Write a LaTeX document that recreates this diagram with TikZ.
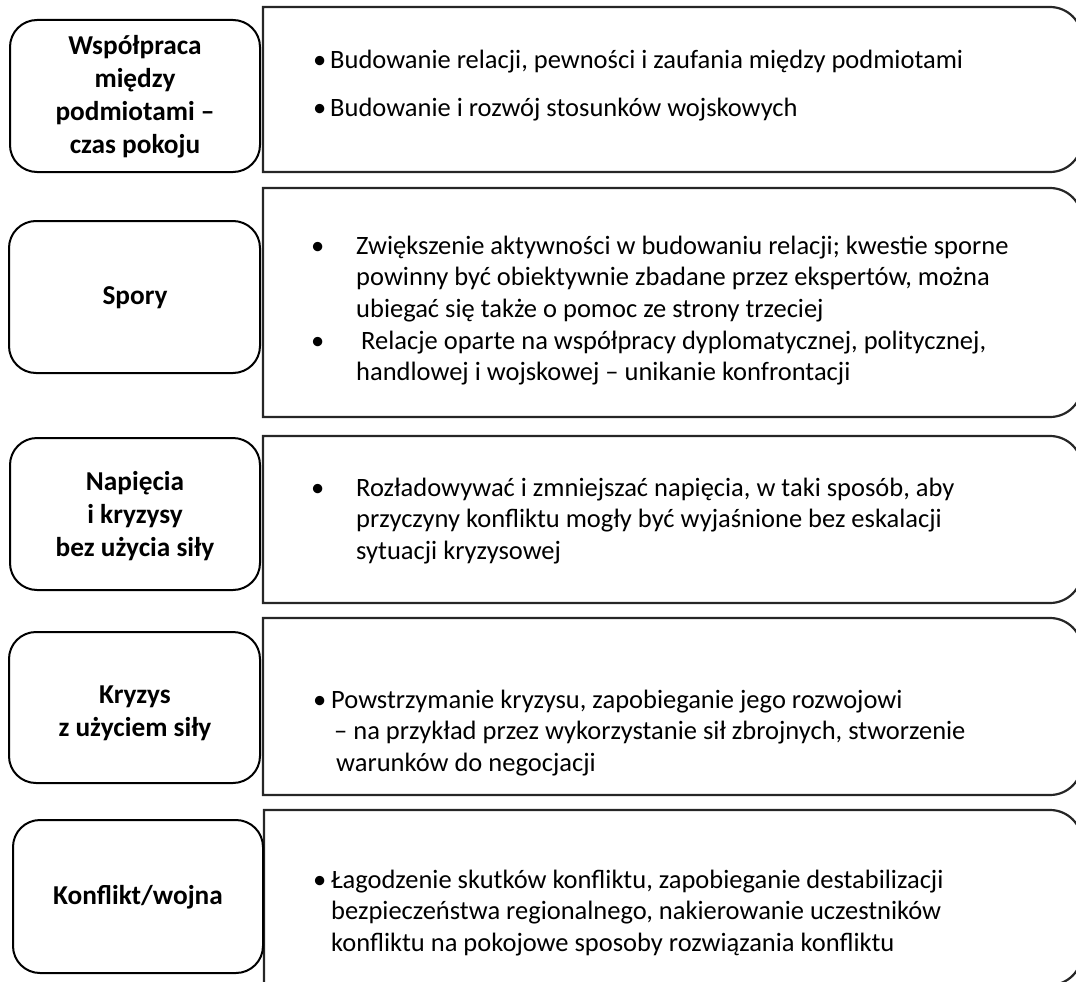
\documentclass[tikz,border=0pt]{standalone}
\usepackage{fontspec}
\setmainfont{Carlito}
\begin{document}
\begin{tikzpicture}[x=1pt,y=-1pt,
  stage/.style={draw=black,line width=2pt,rounded corners=27pt},
  panel/.style={draw=black!85,line width=2.2pt},
  stagetext/.style={align=center,font=\fontsize{27.3}{33}\selectfont\bfseries,inner sep=0pt},
  bulletmark/.style={anchor=base west,inner sep=0pt,font=\fontsize{26.5}{31.5}\selectfont},
  bodytext/.style={anchor=base west,inner sep=0pt,font=\fontsize{26.5}{31.5}\selectfont}]
\useasboundingbox (0,0) rectangle (1076,982);
\clip (0,0) rectangle (1076,982);

% lines of a left-aligned block, first baseline on the node's base
\newcommand\lines[1]{\begin{tabular}[t]{@{}l@{}}#1\end{tabular}}

% right-hand panels: square left corners, rounded right corners
\def\rr{32}
\foreach \t/\b/\l in {7/172/263, 188/417/263, 436/603/263, 618/795/263, 810/985/264}{
  \draw[panel] (\l,\b) -- (\l,\t) -- (1082-\rr,\t)
    arc[start angle=270,end angle=360,radius=\rr]
    -- (1082,\b-\rr)
    arc[start angle=0,end angle=90,radius=\rr] -- cycle;
}

% left-hand stage boxes
\draw[stage] (10,20) rectangle (260,172);
\draw[stage] (9,221) rectangle (260,373);
\draw[stage] (10,438) rectangle (260,590);
\draw[stage] (9,632) rectangle (260,783);
\draw[stage] (13,820) rectangle (263,973);

\node[stagetext] (s1) at (135,97) {Współpraca\\między\\podmiotami –\\czas pokoju};
\node[stagetext] (s2) at (135,298) {Spory};
\node[stagetext] (s3) at (135,516) {Napięcia\\i kryzysy\\bez użycia siły};
\node[stagetext] (s4) at (135,713) {Kryzys\\z użyciem siły};
\node[stagetext] (s5) at (138,897) {Konflikt/wojna};

% panel 1
\node[bulletmark] (b1a) at (313,68) {•};
\node[bodytext] (t1a) at (330,68) {Budowanie relacji, pewności i zaufania między podmiotami};
\node[bulletmark] (b1b) at (313,116) {•};
\node[bodytext] (t1b) at (330,116) {Budowanie i rozwój stosunków wojskowych};

% panel 2
\node[bulletmark] (b2a) at (311,254) {•};
\node[bodytext] (t2a) at (356,254) {\lines{Zwiększenie aktywności w budowaniu relacji; kwestie sporne\\powinny być obiektywnie zbadane przez ekspertów, można\\ubiegać się także o pomoc ze strony trzeciej}};
\node[bulletmark] (b2b) at (311,349) {•};
\node[bodytext] (t2b) at (356,349) {\lines{\hspace*{5pt}Relacje oparte na współpracy dyplomatycznej, politycznej,\\handlowej i wojskowej – unikanie konfrontacji}};

% panel 3
\node[bulletmark] (b3) at (311,496) {•};
\node[bodytext] (t3) at (356,496) {\lines{Rozładowywać i zmniejszać napięcia, w taki sposób, aby\\przyczyny konfliktu mogły być wyjaśnione bez eskalacji\\sytuacji kryzysowej}};

% panel 4
\node[bulletmark] (b4) at (313,708) {•};
\node[bodytext] (t4) at (331,708) {\lines{Powstrzymanie kryzysu, zapobieganie jego rozwojowi\\\hspace*{3pt}– na przykład przez wykorzystanie sił zbrojnych, stworzenie\\\hspace*{5pt}warunków do negocjacji}};

% panel 5
\node[bulletmark] (b5) at (313,888) {•};
\node[bodytext] (t5) at (331,888) {\lines{Łagodzenie skutków konfliktu, zapobieganie destabilizacji\\bezpieczeństwa regionalnego, nakierowanie uczestników\\konfliktu na pokojowe sposoby rozwiązania konfliktu}};
\end{tikzpicture}
\end{document}
